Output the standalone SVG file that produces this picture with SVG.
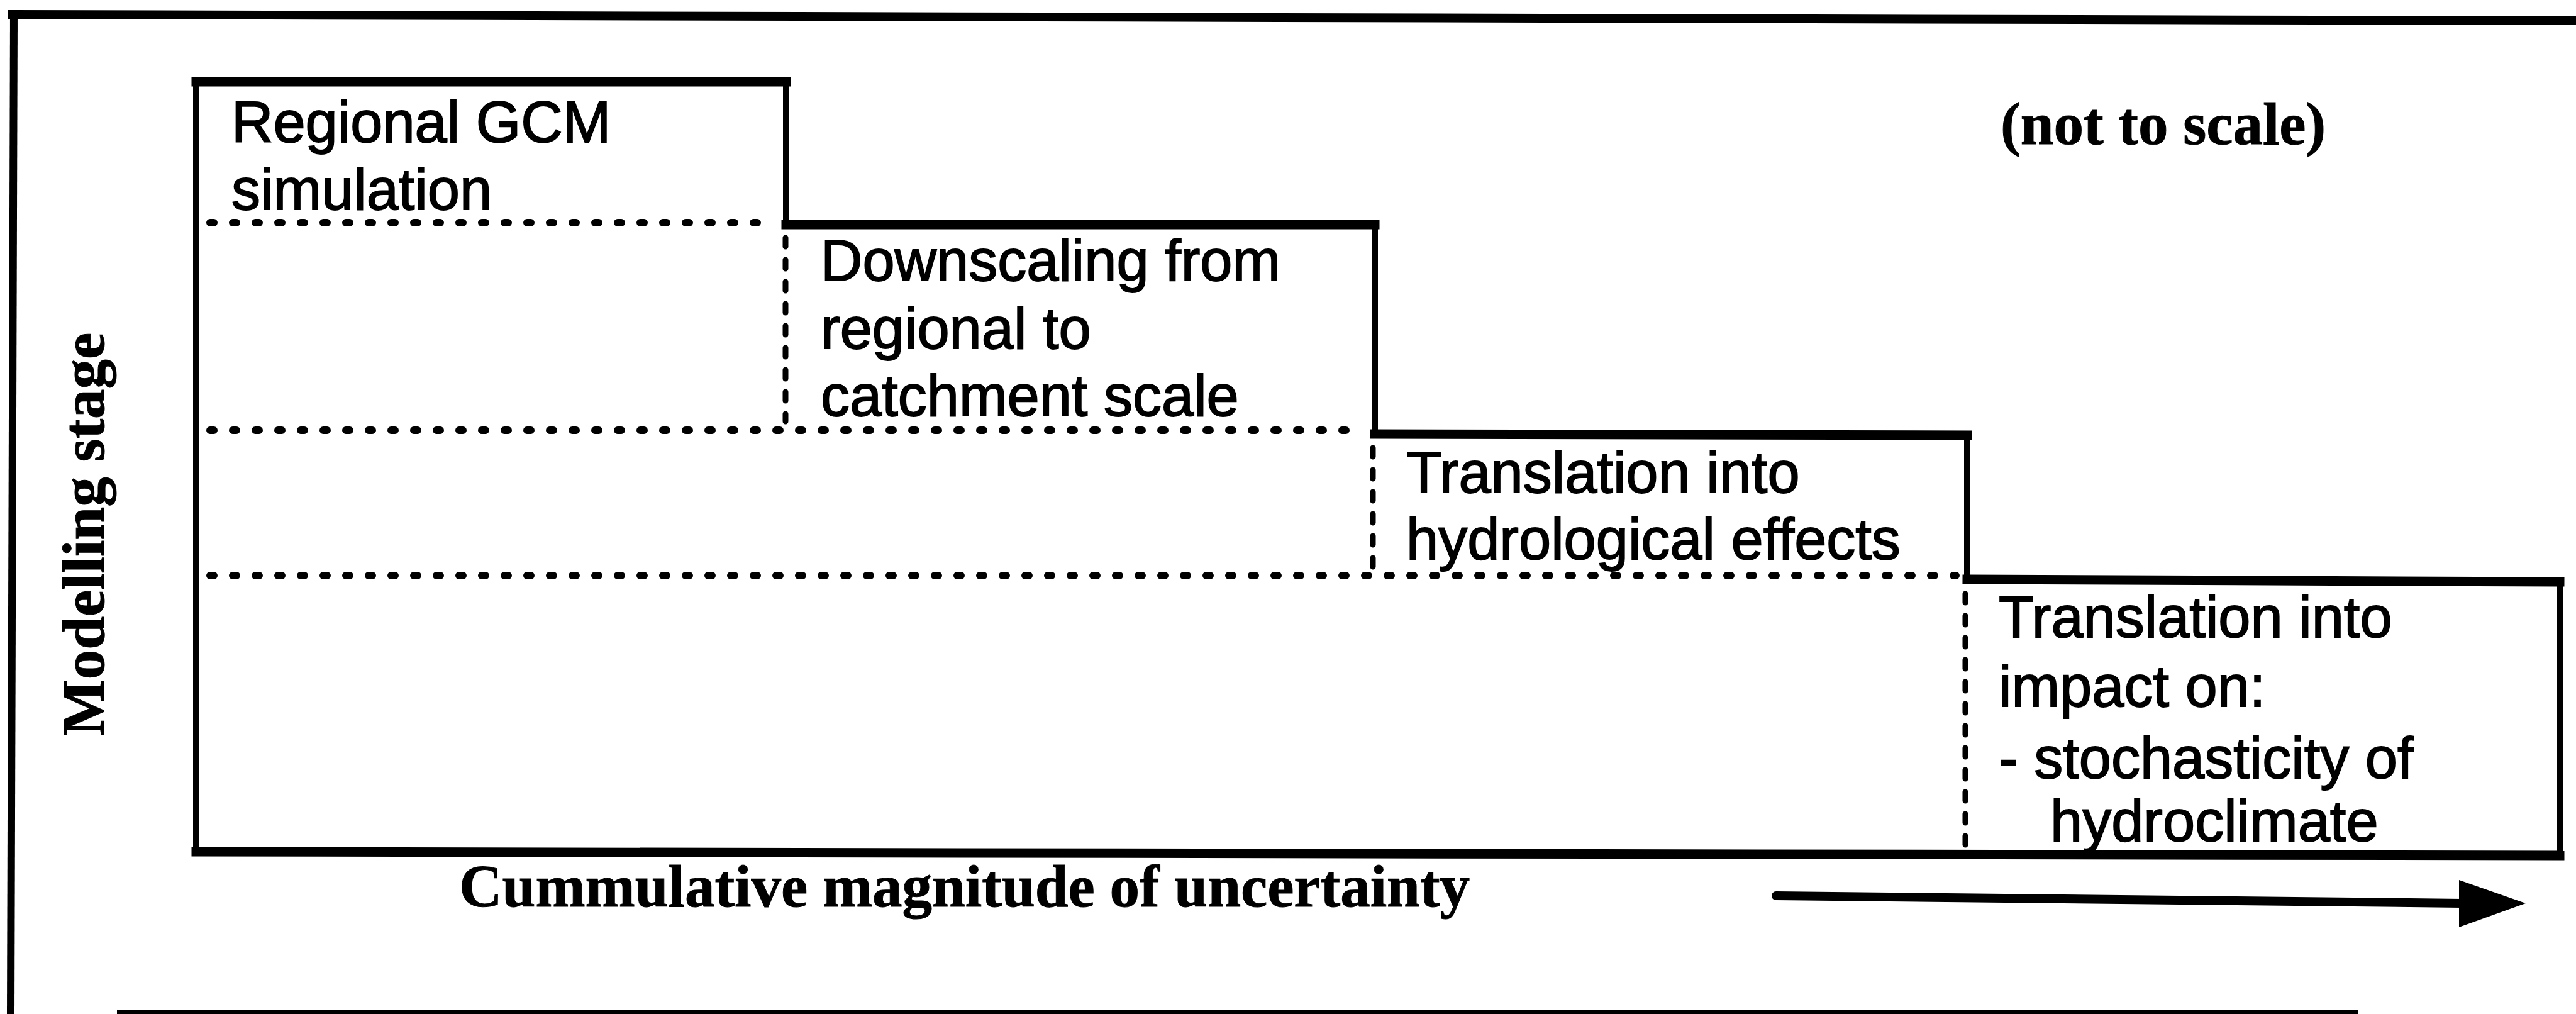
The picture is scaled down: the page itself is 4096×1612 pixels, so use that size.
<svg xmlns="http://www.w3.org/2000/svg" width="4096" height="1612" viewBox="0 0 4096 1612">
<style>
.bg{fill:#ffffff}
.frame{stroke:#000;fill:none;stroke-linecap:square}
.hz{stroke:#000;stroke-width:15;fill:none;stroke-linecap:square}
.vt{stroke:#000;stroke-width:10;fill:none;stroke-linecap:square}
.dot{stroke:#000;stroke-width:12;fill:none;stroke-linecap:round;stroke-dasharray:6 30}
.dash{stroke:#000;stroke-width:9;fill:none;stroke-linecap:round;stroke-dasharray:14 21}
.lbl{font-family:"Liberation Sans",Arial,Helvetica,sans-serif;font-size:92px;fill:#000;stroke:#000;stroke-width:1.8px}
.ax{font-family:"Liberation Serif","Times New Roman",serif;font-weight:bold;font-size:95px;fill:#000;stroke:#000;stroke-width:1px}
</style>
<rect class="bg" x="0" y="0" width="4096" height="1612"/>
<g id="frame">
<line class="frame" x1="20" y1="23" x2="4100" y2="33" stroke-width="14"/>
<line class="frame" x1="22" y1="23" x2="17" y2="1612" stroke-width="12"/>
<line class="frame" x1="190" y1="1609" x2="3745" y2="1609" stroke-width="8"/>
</g>
<g id="stage-gcm">
<line class="hz" x1="312" y1="130" x2="1250" y2="130"/>
<line class="vt" x1="312" y1="130" x2="312" y2="1356"/>
<line class="vt" x1="1250" y1="130" x2="1250" y2="356"/>
<line class="dot" x1="334" y1="354" x2="1234" y2="354"/>
<text class="lbl" x="368" y="226">Regional GCM</text>
<text class="lbl" x="368" y="333">simulation</text>
</g>
<g id="stage-downscaling">
<line class="hz" x1="1250" y1="357" x2="2186" y2="357"/>
<line class="dash" x1="1249" y1="378" x2="1249" y2="670"/>
<line class="vt" x1="2186" y1="357" x2="2186" y2="690"/>
<line class="dot" x1="334" y1="684" x2="2170" y2="684"/>
<text class="lbl" x="1305" y="446">Downscaling from</text>
<text class="lbl" x="1305" y="554">regional to</text>
<text class="lbl" x="1305" y="661">catchment scale</text>
</g>
<g id="stage-hydrological">
<line class="hz" x1="2186" y1="690" x2="3128" y2="692"/>
<line class="dash" x1="2183" y1="712" x2="2183" y2="905"/>
<line class="vt" x1="3128" y1="692" x2="3128" y2="923"/>
<line class="dot" x1="334" y1="915" x2="3110" y2="915"/>
<text class="lbl" x="2236" y="783">Translation into</text>
<text class="lbl" x="2236" y="889">hydrological effects</text>
</g>
<g id="stage-impact">
<line class="hz" x1="3128" y1="921" x2="4070" y2="925"/>
<line class="dash" x1="3125" y1="944" x2="3125" y2="1345"/>
<line class="vt" x1="4070" y1="925" x2="4070" y2="1358"/>
<line class="hz" x1="312" y1="1354" x2="4070" y2="1360"/>
<text class="lbl" x="3178" y="1013">Translation into</text>
<text class="lbl" x="3178" y="1123">impact on:</text>
<text class="lbl" x="3178" y="1237">- stochasticity of</text>
<text class="lbl" x="3260" y="1337">hydroclimate</text>
</g>
<g id="labels">
<text class="ax" x="3181" y="229">(not to scale)</text>
<text class="ax" x="730" y="1441">Cummulative magnitude of uncertainty</text>
<text class="ax" transform="translate(165,1170) rotate(-90)">Modelling stage</text>
</g>
<g id="connectors">
<line x1="2824" y1="1424" x2="3915" y2="1436" stroke="#000" stroke-width="14" stroke-linecap="round"/>
<polygon points="3910,1399 4016,1436 3910,1474" fill="#000"/>
</g>
</svg>
